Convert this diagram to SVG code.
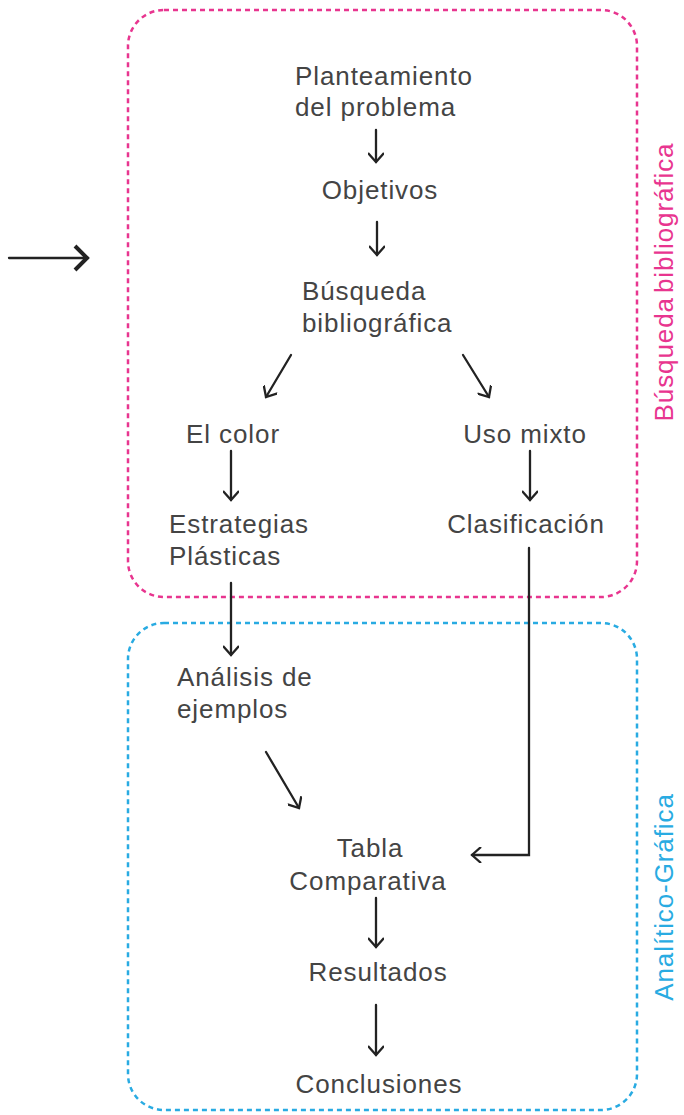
<svg xmlns="http://www.w3.org/2000/svg" width="684" height="1115" viewBox="0 0 684 1115">
<style>
.t{font-family:"Liberation Sans",Arial,sans-serif;font-size:26px;fill:#444;letter-spacing:0.9px}
.c{stroke:#222;stroke-width:2.3;fill:none;stroke-linecap:round;stroke-linejoin:miter}
.box{fill:none;stroke-width:2.5;stroke-dasharray:5 4}
</style>
<defs>
<marker id="ah" markerWidth="14" markerHeight="16" refX="12" refY="8" orient="auto" markerUnits="userSpaceOnUse">
<path d="M3,0 L12,8 L3,16" fill="none" stroke="#222" stroke-width="2.3"/>
</marker>
<marker id="ahb" markerWidth="22" markerHeight="30" refX="18" refY="15" orient="auto" markerUnits="userSpaceOnUse">
<path d="M5,3 L17,15 L5,27" fill="none" stroke="#222" stroke-width="4"/>
</marker>
</defs>
<g id="group-busqueda">
<rect class="box" x="128" y="10" width="509" height="587" rx="36" stroke="#e8358f"/>
<text class="t" transform="translate(673,282) rotate(-90)" text-anchor="middle" style="fill:#e8358f;word-spacing:-4px">Búsqueda bibliográfica</text>
</g>
<g id="group-analitico">
<rect class="box" x="128" y="623" width="509" height="487" rx="36" stroke="#29abe2"/>
<text class="t" transform="translate(673,897) rotate(-90)" text-anchor="middle" style="fill:#29abe2">Analítico-Gráfica</text>
</g>
<g id="connectors">
<line class="c" x1="9" y1="258" x2="88" y2="258" stroke-width="4" stroke-linecap="butt" marker-end="url(#ahb)"/>
<line class="c" x1="376" y1="130" x2="376" y2="162" marker-end="url(#ah)"/>
<line class="c" x1="377" y1="222" x2="377" y2="255" marker-end="url(#ah)"/>
<line class="c" x1="291" y1="355" x2="266" y2="397" marker-end="url(#ah)"/>
<line class="c" x1="463" y1="355" x2="489" y2="397" marker-end="url(#ah)"/>
<line class="c" x1="231" y1="451" x2="231" y2="500" marker-end="url(#ah)"/>
<line class="c" x1="530" y1="451" x2="530" y2="500" marker-end="url(#ah)"/>
<line class="c" x1="231" y1="583" x2="231" y2="655" marker-end="url(#ah)"/>
<polyline class="c" points="529,548 529,855 472,855" marker-end="url(#ah)"/>
<line class="c" x1="266" y1="752" x2="299" y2="808" marker-end="url(#ah)"/>
<line class="c" x1="376" y1="898" x2="376" y2="947" marker-end="url(#ah)"/>
<line class="c" x1="376" y1="1005" x2="376" y2="1055" marker-end="url(#ah)"/>
</g>
<g id="n-planteamiento"><text class="t" x="295" y="85">Planteamiento</text><text class="t" x="295" y="116">del problema</text></g>
<g id="n-objetivos"><text class="t" x="380" y="199" text-anchor="middle">Objetivos</text></g>
<g id="n-busqueda"><text class="t" x="302" y="300">Búsqueda</text><text class="t" x="302" y="332">bibliográfica</text></g>
<g id="n-elcolor"><text class="t" x="233" y="443" text-anchor="middle">El color</text></g>
<g id="n-usomixto"><text class="t" x="525" y="443" text-anchor="middle">Uso mixto</text></g>
<g id="n-estrategias"><text class="t" x="169" y="533">Estrategias</text><text class="t" x="169" y="565">Plásticas</text></g>
<g id="n-clasificacion"><text class="t" x="526" y="533" text-anchor="middle">Clasificación</text></g>
<g id="n-analisis"><text class="t" x="177" y="686">Análisis de</text><text class="t" x="177" y="718">ejemplos</text></g>
<g id="n-tabla"><text class="t" x="370" y="857" text-anchor="middle">Tabla</text><text class="t" x="368" y="890" text-anchor="middle">Comparativa</text></g>
<g id="n-resultados"><text class="t" x="378" y="981" text-anchor="middle">Resultados</text></g>
<g id="n-conclusiones"><text class="t" x="379" y="1093" text-anchor="middle">Conclusiones</text></g>
</svg>
